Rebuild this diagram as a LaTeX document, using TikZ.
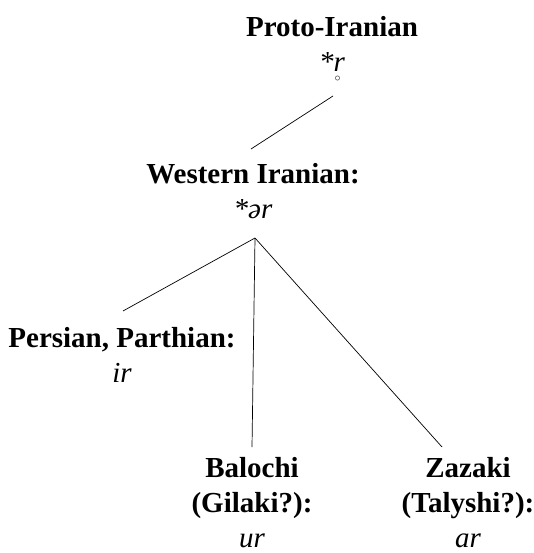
\documentclass[tikz,border=0pt]{standalone}
\usepackage{fontspec}
\setmainfont{Liberation Serif}
% r with a ring below
\newcommand{\ringr}{\leavevmode\ooalign{r\cr\hidewidth\raisebox{-0.32em}{\fontsize{13}{13}\selectfont$\circ$}\kern0.12em\hidewidth\cr}}
\begin{document}
\begin{tikzpicture}[x=1pt,y=-1pt,
  lang/.style={align=center,inner sep=0pt,anchor=base,font=\fontsize{29}{35}\selectfont},
  branch/.style={line width=0.7pt}]
\useasboundingbox (0,0) rectangle (533,553);
% language nodes
\node[lang] (proto) at (332,72) {\textbf{Proto-Iranian}\\\textit{*\ringr}};
\node[lang] (western) at (253,218) {\textbf{Western Iranian:}\\\textit{*ər}};
\node[lang] (persian) at (122,382) {\textbf{Persian, Parthian:}\\\textit{ir}};
\node[lang] (balochi) at (252,547) {\textbf{Balochi}\\\textbf{(Gilaki?):}\\\textit{ur}};
\node[lang] (zazaki) at (468,547) {\textbf{Zazaki}\\\textbf{(Talyshi?):}\\\textit{ar}};
% split point under Western Iranian
\coordinate (split) at ([shift={(2,20)}]western.base);
\draw[branch] ([shift={(1,24)}]proto.base) -- ([shift={(-2,-69)}]western.base);
\draw[branch] (split) -- ([shift={(1,-71)}]persian.base);
\draw[branch] (split) -- ([shift={(0,-100)}]balochi.base);
\draw[branch] (split) -- ([shift={(-26,-100)}]zazaki.base);
\end{tikzpicture}
\end{document}
